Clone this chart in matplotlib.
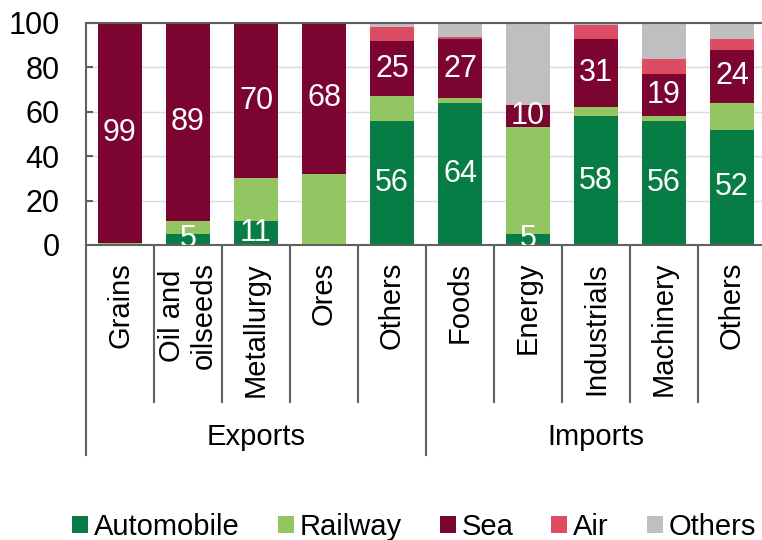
import matplotlib.pyplot as plt
import numpy as np

plt.rcParams['font.family'] = ['Liberation Sans', 'DejaVu Sans']

categories = ['Grains', 'Oil and\noilseeds', 'Metallurgy', 'Ores', 'Others',
              'Foods', 'Energy', 'Industrials', 'Machinery', 'Others']
groups = ['Exports', 'Imports']
group_size = 5

automobile = [0, 5, 11, 0, 56, 64, 5, 58, 56, 52]
railway = [1, 6, 19, 32, 11, 2, 48, 4, 2, 12]
sea = [99, 89, 70, 68, 25, 27, 10, 31, 19, 24]
air = [0, 0, 0, 0, 6, 0.5, 0, 6, 7, 5]
others = [0, 0, 0, 0, 2, 6.5, 37, 1, 16, 7]

series = [('Automobile', automobile, '#077D45'),
          ('Railway', railway, '#93C663'),
          ('Sea', sea, '#7B0530'),
          ('Air', air, '#DC4C62'),
          ('Others', others, '#BFBFBF')]
labelled = ['Automobile', 'Sea']

axis_grey = '#606060'
fs = 21

fig = plt.figure(figsize=(7.62, 5.40), dpi=100)
ax = fig.add_axes([86 / 762, 1 - 245 / 540, 680 / 762, 222 / 540])

x = np.arange(len(categories))
bottom = np.zeros(len(categories))
handles = []
for name, vals, color in series:
    vals = np.array(vals, dtype=float)
    bars = ax.bar(x, vals, width=0.66, bottom=bottom, color=color, zorder=2)
    handles.append(bars)
    if name in labelled:
        for xi, b, v in zip(x, bottom, vals):
            if v > 0:
                ax.text(xi, b + v / 2, f'{v:g}', ha='center', va='center',
                        color='white', fontsize=22, zorder=3, clip_on=True)
    bottom += vals

ax.set_xlim(-0.5, len(categories) - 0.5)
ax.set_ylim(0, 100)
ax.set_yticks(range(0, 101, 20))
ax.yaxis.grid(True, color='#D9D9D9', linewidth=1, zorder=0)
ax.tick_params(axis='y', direction='in', length=5, width=1.5, color=axis_grey,
               labelsize=22, pad=19)
ax.tick_params(axis='x', length=0, labelbottom=False)
ax.set_xticks([])
for side in ['left', 'bottom', 'top']:
    ax.spines[side].set_color(axis_grey)
    ax.spines[side].set_linewidth(1.5)
ax.spines['right'].set_visible(False)

# two-level category axis below the plot
trans = ax.get_xaxis_transform()
inner_end = -(402 - 245) / 222
outer_end = -(455 - 245) / 222
for i in range(len(categories) + 1):
    y_end = outer_end if i % group_size == 0 else inner_end
    ax.plot([i - 0.5, i - 0.5], [0, y_end], color=axis_grey, lw=1.5,
            transform=trans, clip_on=False)
for xi, cat in zip(x, categories):
    ax.text(xi, -17 / 222, cat, rotation=90, ha='center', va='top',
            multialignment='center', fontsize=fs, transform=trans)
for gi, g in enumerate(groups):
    xc = gi * group_size + (group_size - 1) / 2
    ax.text(xc, -(437 - 245) / 222, g, ha='center', va='center',
            fontsize=fs, transform=trans)

fig.legend(handles, [s[0] for s in series], loc='center', ncol=5,
           bbox_to_anchor=(414 / 762, 1 - 527 / 540), frameon=False,
           fontsize=fs, handlelength=0.55, handleheight=0.55,
           handletextpad=0.2, columnspacing=1.3, borderpad=0)

fig.savefig('out.png', dpi=100)
